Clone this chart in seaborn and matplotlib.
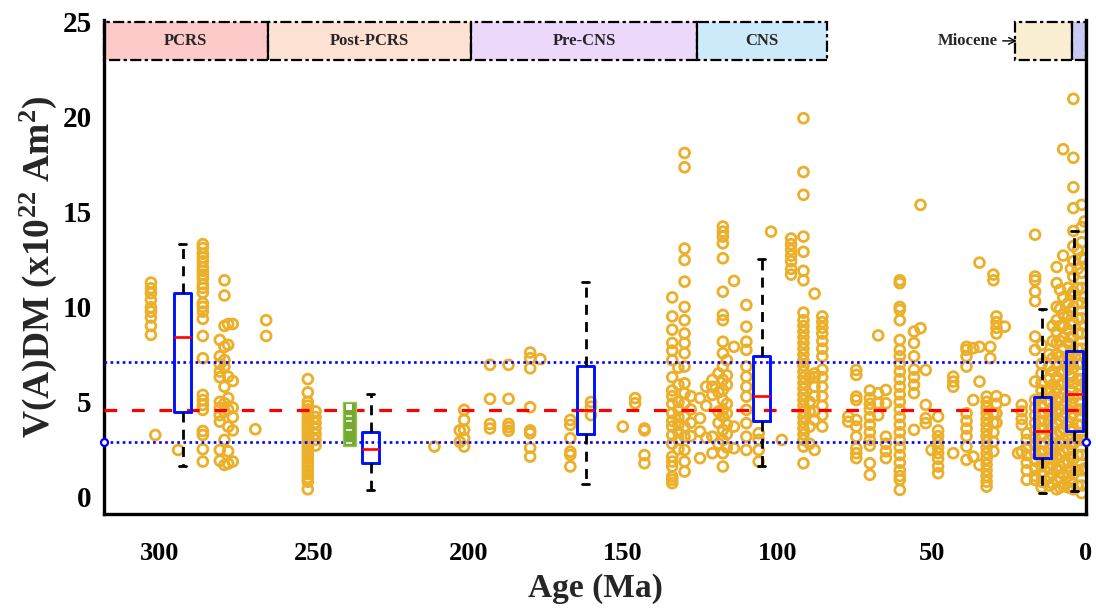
import numpy as np
import pandas as pd
import matplotlib
matplotlib.use("Agg")
import matplotlib.pyplot as plt
import seaborn as sns

# ---------------- data ----------------
col_ages = [302.8, 301.4, 294.0, 286.0, 280.5, 279.0, 277.8, 276.3, 269.0, 265.5,
            252.0, 249.5, 211.0, 201.4, 202.8, 193.0, 187.0, 180.0, 176.7, 167.0,
            160.3, 150.0, 146.0, 143.0, 134.0, 132.0, 130.0, 128.0, 125.0, 123.0,
            121.0, 119.0, 117.6, 116.3, 114.0, 110.0, 106.0, 102.0, 98.5, 95.5,
            91.5, 89.5, 87.9, 85.4, 77.0, 74.4, 70.0, 67.3, 64.8, 60.3,
            55.7, 53.6, 51.9, 50.0, 47.9, 43.0, 38.7, 36.5, 34.5, 32.2,
            31.0, 30.0, 29.0, 26.3, 22.0, 20.8, 19.2, 16.5, 14.4, 12.0,
            10.8, 9.5, 8.4, 7.4, 5.8, 4.9, 4.1, 2.7, 1.4, 0.5]
col_vals = [
    [11.28, 10.98, 10.72, 10.37, 9.98, 9.75, 9.44, 9.0, 8.53],
    [3.26],
    [2.47],
    [13.3, 13.1, 12.8, 12.6, 12.4, 12.1, 11.9, 11.7, 11.5, 11.2, 11.0, 10.75, 10.2, 10.0,
     9.75, 9.37, 8.47, 7.3, 5.37, 5.1, 4.84, 4.58, 3.47, 3.26, 2.51, 1.86],
    [8.26, 7.4, 7.0, 6.6, 6.3, 5.0, 4.7, 4.3, 3.96, 2.47, 1.9],
    [11.4, 10.6, 9.0, 7.9, 7.2, 6.86, 5.8, 4.93, 4.49, 3.0, 1.68],
    [9.1, 8.0, 6.33, 5.2, 4.6, 3.7, 2.4, 1.75],
    [9.1, 6.1, 4.7, 4.2, 3.5, 1.86],
    [3.56],
    [9.3, 8.47],
    [6.2, 5.5, 5.0, 4.8, 4.6, 4.4, 4.2, 4.0, 3.8, 3.6, 3.4, 3.2, 3.0, 2.8, 2.6, 2.4, 2.2,
     2.0, 1.8, 1.6, 1.4, 1.2, 1.0, 0.8, 0.4],
    [4.5, 4.2, 3.9, 3.6, 3.3, 3.0, 2.7],
    [2.65],
    [4.58, 4.05, 3.53, 3.09, 2.65],
    [3.5, 2.9],
    [6.95, 5.16, 3.84, 3.6],
    [6.95, 5.16, 3.84, 3.67, 3.48],
    [7.6, 7.3, 6.77, 4.72, 3.5, 3.35, 2.58, 2.12],
    [7.25],
    [4.05, 3.79, 3.09, 2.38, 2.21, 1.6],
    [5.0, 4.75, 4.3],
    [3.7],
    [5.2, 4.93],
    [3.6, 3.5, 2.2, 1.77],
    [10.5, 9.5, 8.8, 8.1, 7.7, 7.2, 6.3, 5.6, 5.3, 4.9, 4.4, 4.0, 3.7, 3.26, 2.8, 2.12,
     1.86, 1.6, 1.07, 0.9, 0.72],
    [6.8, 5.9, 5.0, 4.6, 4.2, 3.8, 3.4, 3.0, 2.5],
    [18.1, 17.35, 13.07, 12.47, 11.33, 10.0, 9.3, 8.6, 8.1, 7.56, 6.86, 5.98, 5.46, 4.93,
     4.23, 3.7, 3.17, 2.47, 1.86, 1.33],
    [5.3, 4.6, 3.9, 3.2],
    [5.2, 4.14, 3.44, 2.04],
    [5.8, 4.8, 3.1],
    [6.16, 5.8, 5.37, 3.17, 2.3],
    [6.5, 5.5, 4.5, 3.9, 2.8],
    [14.23, 13.96, 13.7, 13.35, 12.56, 10.8, 9.58, 9.3, 8.17, 7.56, 6.86, 6.16, 5.63, 5.1,
     4.58, 4.23, 3.53, 3.0, 2.3, 1.6],
    [7.2, 6.4, 5.9, 4.9, 4.4, 3.8, 3.3, 2.6],
    [11.37, 7.9, 3.7, 2.56],
    [10.1, 8.96, 8.17, 7.74, 6.86, 6.33, 5.8, 5.28, 4.58, 3.88, 3.17, 2.47],
    [3.35, 3.0, 2.47, 1.86],
    [13.96],
    [3.0],
    [13.6, 13.3, 13.0, 12.7, 12.4, 12.0, 11.7],
    [19.93, 17.1, 15.9, 13.7, 12.9, 11.9, 11.4, 9.7, 9.3, 9.0, 8.7, 8.4, 8.1, 7.8, 7.5,
     7.2, 6.9, 6.6, 6.3, 6.0, 5.7, 5.4, 5.1, 4.8, 4.5, 4.2, 3.9, 3.6, 3.3, 3.0, 2.65, 1.77],
    [6.3, 5.0, 4.5, 3.7, 2.8],
    [10.7, 6.5, 6.3, 5.8, 5.3, 4.5, 4.05, 2.47],
    [9.5, 9.2, 8.9, 8.6, 8.2, 7.8, 7.4, 6.7, 6.3, 5.8, 5.3, 4.8, 4.3, 3.7],
    [4.23, 3.96],
    [6.68, 6.42, 5.28, 5.1, 4.05, 3.7, 3.17, 2.56, 2.3, 2.04],
    [5.6, 5.2, 4.9, 4.6, 4.2, 3.8, 3.4, 3.0, 2.7, 1.77, 1.16],
    [8.5, 5.46, 4.93, 4.3],
    [5.63, 4.93, 3.17, 2.8, 2.4, 2.04],
    [11.4, 11.25, 10.0, 9.84, 9.3, 8.26, 7.74, 7.4, 7.0, 6.6, 6.2, 5.8, 5.4, 5.0, 4.6, 4.2,
     3.8, 3.4, 3.0, 2.6, 2.2, 1.8, 1.4, 1.1, 0.9, 0.37],
    [8.7, 8.1, 7.4, 6.7, 6.3, 5.9, 5.46, 3.53],
    [15.37, 8.88],
    [6.68, 4.84, 4.14, 3.88],
    [2.47],
    [4.23, 3.5, 3.2, 2.9, 2.6, 2.3, 2.0, 1.6, 1.25],
    [6.33, 6.07, 5.8, 2.3],
    [7.9, 7.74, 7.4, 6.86, 4.4, 4.0, 3.6, 3.2, 2.65, 1.95],
    [7.83, 5.1, 2.12],
    [12.33, 7.9, 6.07, 1.68],
    [5.28, 5.0, 4.7, 4.4, 4.1, 3.8, 3.5, 3.2, 2.9, 2.6, 2.3, 2.0, 1.7, 1.4, 1.1, 0.8, 0.54],
    [7.9, 7.3],
    [11.7, 11.4, 4.4, 3.9, 3.4, 2.9, 2.4],
    [9.5, 9.2, 8.9, 8.6, 5.3, 4.9, 4.4, 3.9],
    [8.96, 5.1],
    [2.3],
    [4.84, 4.5, 4.1, 3.79, 2.38],
    [3.35, 3.0, 2.6, 2.2, 1.8, 1.4, 0.9],
    [13.8, 11.6, 11.4, 10.8, 10.3, 8.44, 7.74, 6.07, 5.1, 4.7, 4.3, 3.9, 3.5, 3.1, 2.7,
     2.3, 1.9, 1.5, 1.1, 0.9],
    [8.0, 7.0, 6.5, 6.0, 5.6, 5.2, 4.8, 4.4, 4.0, 3.6, 3.2, 2.8, 2.4, 2.0, 1.6, 1.2, 0.8, 0.5],
    [7.5, 6.9, 6.2, 5.6, 5.0, 4.5, 4.0, 3.5, 3.0, 2.5, 2.0, 1.5, 1.0, 0.6],
    [9.0, 8.2, 7.3, 6.6, 5.9, 5.3, 4.7, 4.2, 3.7, 3.2, 2.7, 2.2, 1.7, 1.2, 0.7],
    [12.1, 11.25, 10.0, 9.3, 8.7, 8.1, 7.5, 6.9, 6.3, 5.7, 5.1, 4.5, 3.9, 3.3, 2.7, 2.1,
     1.5, 0.9, 0.4],
    [10.9, 9.9, 9.0, 8.2, 7.4, 6.6, 5.9, 5.2, 4.6, 4.0, 3.4, 2.8, 2.2, 1.6, 1.0, 0.5],
    [18.3, 12.7, 10.5, 9.6, 9.0, 8.4, 7.8, 7.2, 6.6, 6.0, 5.4, 4.8, 4.2, 3.6, 3.0, 2.4,
     1.8, 1.2, 0.6],
    [11.0, 10.2, 9.5, 8.8, 8.1, 7.4, 6.7, 6.0, 5.3, 4.6, 3.9, 3.2, 2.5, 1.8, 1.1, 0.5],
    [12.0, 10.6, 9.8, 9.1, 8.4, 7.7, 7.0, 6.3, 5.6, 4.9, 4.2, 3.5, 2.8, 2.1, 1.4, 0.8],
    [20.95, 17.85, 16.3, 15.2, 14.0, 13.2, 12.4, 11.6, 10.8, 10.0, 9.2, 8.4, 7.6, 6.8, 6.0,
     5.2, 4.4, 3.6, 2.8, 2.0, 1.2, 0.4],
    [13.0, 12.0, 11.0, 10.2, 9.4, 8.6, 7.8, 7.0, 6.2, 5.4, 4.6, 3.8, 3.0, 2.2, 1.4, 0.6],
    [15.37, 14.2, 13.4, 12.6, 11.8, 11.0, 10.2, 9.4, 8.6, 7.8, 7.0, 6.2, 5.4, 4.6, 3.8,
     3.0, 2.2, 1.4, 0.6, 0.2],
    [14.5, 12.5, 10.5, 9.0, 7.5, 6.0, 4.5, 3.0, 1.5],
]

# box-plot statistics (age position, quartiles, whiskers)
box_ages = [292.5, 231.6, 162.0, 105.0, 14.2, 3.8]
box_q1 = [4.49, 1.77, 3.30, 4.00, 2.07, 3.47]
box_med = [8.39, 2.50, 4.60, 5.33, 3.47, 5.40]
box_q3 = [10.72, 3.40, 6.89, 7.44, 5.25, 7.70]
box_wlo = [1.63, 0.37, 0.67, 1.65, 0.23, 0.33]
box_whi = [13.30, 5.40, 11.33, 12.53, 9.88, 14.00]

# green range bar
green_age = 238.6
green_lo = 2.66
green_hi = 5.0
green_marks = [4.75, 4.26, 4.0, 3.53, 2.86]

# reference lines
mean_vdm = 4.58
band_hi = 7.09
band_lo = 2.88

# period bands across the top
period_names = ["PCRS", "Post-PCRS", "Pre-CNS", "CNS", "", ""]
period_old = [318.0, 265.0, 199.0, 126.0, 23.0, 4.6]
period_young = [265.0, 199.0, 126.0, 84.0, 4.6, 0.0]
period_colors = ["#fdc9c9", "#fde1d3", "#ebd8fb", "#cdeafb", "#f9edd2", "#c9c9f4"]

x_ticks = [300, 250, 200, 150, 100, 50, 0]
y_ticks = [0, 5, 10, 15, 20, 25]

# ---------------- style ----------------
sns.set_theme(style="white")
plt.rcParams["font.family"] = ["Liberation Serif", "DejaVu Serif"]
plt.rcParams["font.weight"] = "bold"
plt.rcParams["mathtext.fontset"] = "custom"
plt.rcParams["mathtext.rm"] = "Liberation Serif:bold"
plt.rcParams["mathtext.bf"] = "Liberation Serif:bold"
plt.rcParams["mathtext.it"] = "Liberation Serif:bold:italic"
plt.rcParams["mathtext.default"] = "bf"

orange = "#EBAF2A"

fig = plt.figure(figsize=(10.96, 6.08), dpi=100)
ax = fig.add_axes([0.0949, 0.1546, 0.896, 0.8125])

# period bands
ax.bar(x=period_young, height=2.0,
       width=[o - y for o, y in zip(period_old, period_young)], bottom=23.0,
       align="edge", color=period_colors,
       edgecolor="black", linestyle=(0, (5, 1.5, 1.5, 1.5)), linewidth=1.6,
       zorder=1, clip_on=False)
sep = [period_old[1], period_old[2], period_old[3], period_young[4]]
ax.vlines(sep, 23.0, 25.0, colors="black", linewidth=1.5, zorder=1.5)
for name, o, y in zip(period_names, period_old, period_young):
    if name:
        ax.text((o + y) / 2, 24.0, name, ha="center", va="center",
                fontsize=12, fontweight="bold", zorder=2)
ax.annotate("Miocene", xy=(22.4, 24.0), xytext=(28.5, 24.0), ha="right", va="center",
            fontsize=12, fontweight="bold",
            arrowprops=dict(arrowstyle="->", lw=1.0, color="black",
                            shrinkA=1, shrinkB=0))

# scatter
df = pd.DataFrame({
    "age": np.concatenate([[a] * len(v) for a, v in zip(col_ages, col_vals)]),
    "vdm": np.concatenate([np.asarray(v, float) for v in col_vals]),
})
sns.scatterplot(data=df, x="age", y="vdm", ax=ax, marker="o", s=50,
                color=orange, edgecolor=orange, linewidth=2.0, zorder=2, legend=False)
ax.collections[-1].set_facecolor("none")

# reference lines
ax.axhline(mean_vdm, color="red", linestyle=(0, (4, 4.6)), linewidth=2.3, zorder=3)
for yv in (band_hi, band_lo):
    ax.axhline(yv, color="blue", linestyle=(0, (1, 1.3)), linewidth=1.9, zorder=3)
ax.plot([318.0, 0.0], [band_lo, band_lo], linestyle="none", marker="o", ms=5,
        mfc="white", mec="blue", mew=1.6, clip_on=False, zorder=6)

# green range bar with marks
ax.bar([green_age], [green_hi - green_lo], bottom=green_lo, width=4.2,
       color="#76a832", edgecolor="#92c45a", linewidth=1.0, zorder=4)
ax.scatter([green_age], [green_marks[0]], marker="s", s=16, color="white",
           linewidths=0, zorder=5)
ax.scatter([green_age] * (len(green_marks) - 1), green_marks[1:], marker="_", s=16,
           color="white", linewidths=1.1, zorder=5)

# box plots
stats = [dict(med=m, q1=a, q3=b, whislo=lo, whishi=hi, fliers=[])
         for m, a, b, lo, hi in zip(box_med, box_q1, box_q3, box_wlo, box_whi)]
ax.bxp(stats, positions=box_ages, widths=5.4, capwidths=2.2, showfliers=False,
       manage_ticks=False, patch_artist=False,
       boxprops=dict(color="#0010ff", linewidth=2.1),
       medianprops=dict(color="red", linewidth=1.9),
       whiskerprops=dict(color="black", linewidth=2.0, linestyle=(0, (3.6, 2.6))),
       capprops=dict(color="black", linewidth=2.0), zorder=5)

# axes styling
ax.set_xlim(318, 0)
ax.set_ylim(-0.9, 25.1)
ax.set_xticks(x_ticks)
ax.set_xticklabels([str(t) for t in x_ticks])
ax.set_yticks(y_ticks)
ax.set_yticklabels([str(t) for t in y_ticks])
ax.tick_params(axis="both", direction="in", length=7, width=2.0,
               pad=8, colors="black")
ax.tick_params(axis="x", pad=20, labelsize=19)
ax.tick_params(axis="y", pad=9, labelsize=21)
ax.tick_params(right=False, top=False)
for lbl in ax.get_xticklabels() + ax.get_yticklabels():
    lbl.set_fontweight("bold")
for side in ("left", "bottom", "right"):
    ax.spines[side].set_visible(True)
    ax.spines[side].set_color("black")
    ax.spines[side].set_linewidth(2.4)
ax.spines["top"].set_visible(False)
ax.grid(False)

ax.set_xlabel("Age (Ma)", fontsize=24, fontweight="bold", labelpad=6)
ax.set_ylabel("V(A)DM (x10$^{22}$ Am$^{2}$)", fontsize=27, fontweight="bold", labelpad=2)

fig.savefig("out.png", dpi=100)
